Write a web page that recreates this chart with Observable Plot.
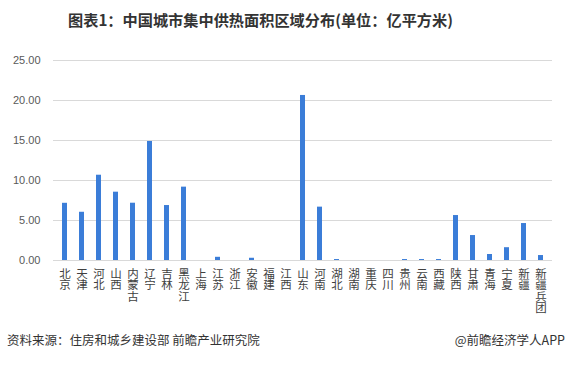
<!DOCTYPE html>
<html><head><meta charset="utf-8">
<script src="https://cdn.jsdelivr.net/npm/d3@7"></script>
<script src="https://cdn.jsdelivr.net/npm/@observablehq/plot@0.6"></script>
<style>
body{margin:0;width:570px;height:365px;background:#fff;position:relative;overflow:hidden;font-family:"Liberation Sans","Noto Sans CJK SC",sans-serif}
#title{position:absolute;left:0;top:8px;width:521px;text-align:center;font-weight:bold;font-size:15.2px;font-family:"Noto Sans CJK SC",sans-serif;color:#333;line-height:22px;white-space:nowrap}
#chart{position:absolute;left:0;top:40px}
#src{position:absolute;left:7px;top:332px;font-size:12.5px;color:#333;font-family:"Noto Sans CJK SC",sans-serif;line-height:16px}
#brand{position:absolute;right:5px;top:332px;font-size:12.5px;color:#333;font-family:"Noto Sans CJK SC",sans-serif;line-height:16px}
</style>
</head><body>
<div id="title">图表1：中国城市集中供热面积区域分布(单位：亿平方米)</div>
<div id="chart"></div>
<div id="src">资料来源：住房和城乡建设部 前瞻产业研究院</div>
<div id="brand">@前瞻经济学人APP</div>
<script>
const regions = ["北京","天津","河北","山西","内蒙古","辽宁","吉林","黑龙江","上海","江苏","浙江","安徽","福建","江西","山东","河南","湖北","湖南","重庆","四川","贵州","云南","西藏","陕西","甘肃","青海","宁夏","新疆","新疆兵团"];
const values = [7.15,6.03,10.66,8.54,7.16,14.88,6.87,9.17,0,0.4,0,0.28,0,0,20.63,6.67,0.12,0,0,0,0.12,0.12,0.12,5.62,3.12,0.75,1.6,4.62,0.62];
const yTicks = [0,5,10,15,20,25];

const data = regions.map((r,i)=>({region:r, value:values[i]}));

const chart = Plot.plot({
  width:570, height:290,
  marginTop:20, marginBottom:70, marginLeft:53, marginRight:18,
  style:{fontFamily:'"Liberation Sans","Noto Sans CJK SC",sans-serif', background:"transparent"},
  x:{domain:regions, paddingInner:0.71, paddingOuter:0.41, label:null, axis:null},
  y:{domain:[0,25], label:null, axis:null},
  marks:[
    Plot.gridY(yTicks,{stroke:"#d9d9d9", strokeOpacity:1}),
    Plot.axisY(yTicks,{tickSize:0, tickPadding:13, tickFormat:d=>d.toFixed(2), fontSize:11, fill:"#595959", label:null}),
    Plot.axisX({tickSize:0, tickPadding:9, tickFormat:d=>d.split("").join("\n"), lineAnchor:"top", fontSize:11.5, fill:"#404040", label:null}),
    Plot.barY(data,{x:"region", y:"value", fill:"#3b7dd8"}),
    Plot.ruleY([0],{stroke:"#d9d9d9"})
  ]
});
document.getElementById("chart").appendChild(chart);
</script>
</body></html>
